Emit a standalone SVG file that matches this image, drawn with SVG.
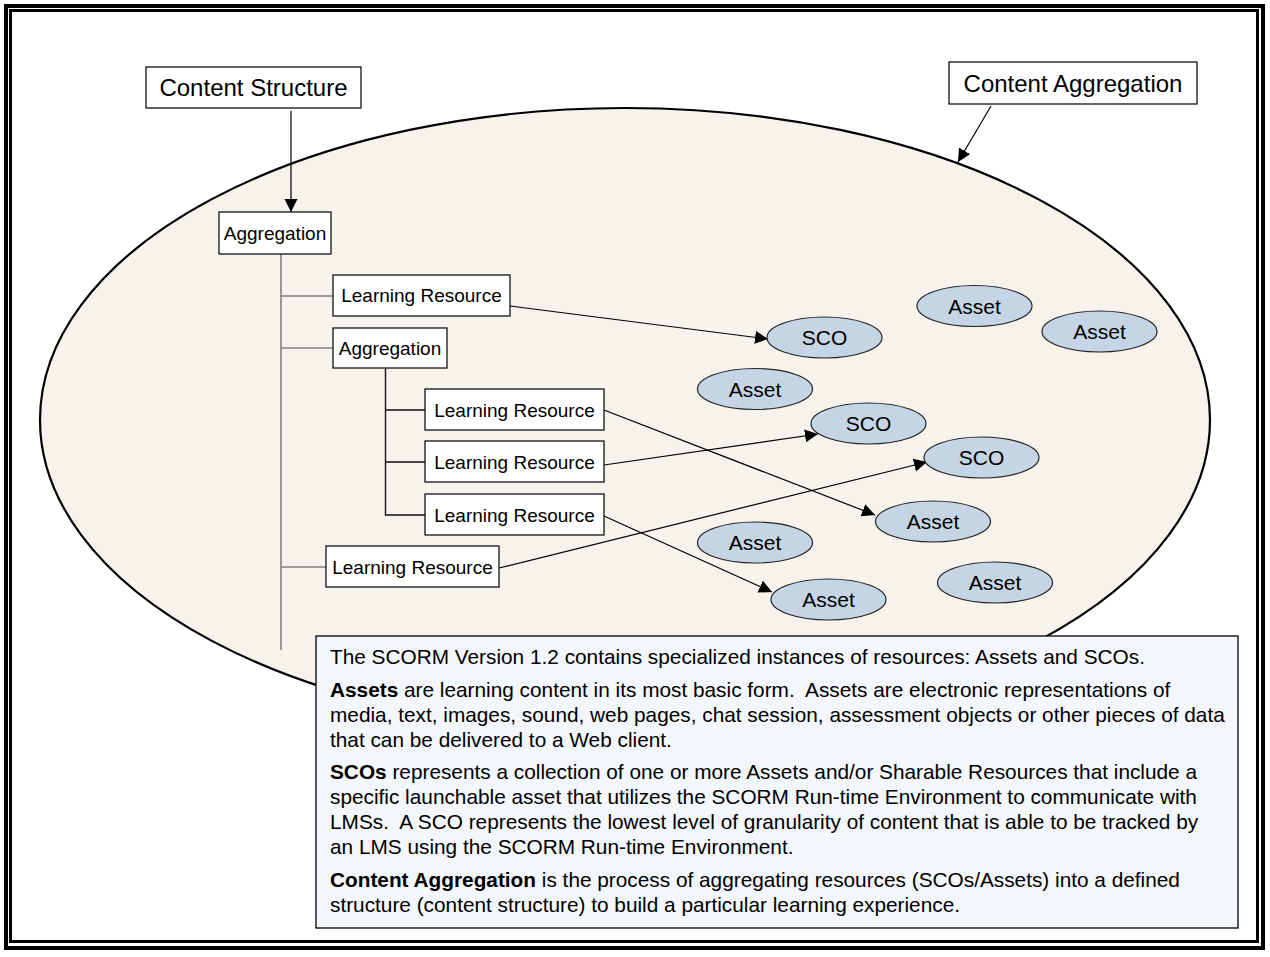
<svg xmlns="http://www.w3.org/2000/svg" width="1270" height="957" viewBox="0 0 1270 957">
<style>
text{font-family:"Liberation Sans",Arial,sans-serif;fill:#000}
.box{fill:#fff;stroke:#000;stroke-width:1.2}
.lbl{font-size:19px}
.big{font-size:24px}
.el{fill:#c5d5e6;stroke:#222;stroke-width:1.2}
.eltx{font-size:21px;text-anchor:middle}
.con{stroke:#000;stroke-width:1.2;fill:none}
.tree{stroke:#808080;stroke-width:1.6;fill:none}
.tree2{stroke:#111;stroke-width:1.4;fill:none}
.para{font-size:20.8px;white-space:pre}
</style>
<defs>
<marker id="ah" markerUnits="userSpaceOnUse" markerWidth="14" markerHeight="14" refX="13" refY="6.5" orient="auto">
<path d="M0,0 L13,6.5 L0,13 z" fill="#000"/>
</marker>
</defs>
<rect width="1270" height="957" fill="#fff"/>
<rect x="6" y="6" width="1257" height="942" fill="none" stroke="#000" stroke-width="4"/>
<rect x="10.5" y="10.5" width="1247" height="931" fill="none" stroke="#000" stroke-width="3"/>

<g id="content-aggregation-area">
<ellipse cx="625" cy="420" rx="585" ry="312" fill="#f6f2ec" stroke="#000" stroke-width="2.2"/>
</g>

<g id="tree">
<path class="tree" d="M281,254 V650 M281,296 H333 M281,348 H333 M281,567 H326"/>
<path class="tree2" d="M385.5,368 V515 H425 M385.5,410 H425 M385.5,462 H425"/>
</g>

<g id="connectors">
<line class="con" x1="291" y1="111" x2="291" y2="212" marker-end="url(#ah)"/>
<line class="con" x1="991" y1="106" x2="958" y2="162" marker-end="url(#ah)"/>
<line class="con" x1="510" y1="306" x2="768" y2="339" marker-end="url(#ah)"/>
<line class="con" x1="604" y1="410" x2="875" y2="515" marker-end="url(#ah)"/>
<line class="con" x1="604" y1="465" x2="818" y2="434" marker-end="url(#ah)"/>
<line class="con" x1="604" y1="516" x2="772" y2="592" marker-end="url(#ah)"/>
<line class="con" x1="499" y1="568" x2="927" y2="462" marker-end="url(#ah)"/>
</g>

<g id="content-structure">
<rect class="box" x="146" y="67" width="215" height="41"/>
<text class="big" x="253.5" y="96" text-anchor="middle">Content Structure</text>
</g>
<g id="content-aggregation">
<rect class="box" x="949" y="62" width="248" height="42"/>
<text class="big" x="1073" y="92" text-anchor="middle">Content Aggregation</text>
</g>
<g id="aggregation-1">
<rect class="box" x="219" y="212" width="112" height="42"/>
<text class="lbl" x="275" y="240" text-anchor="middle">Aggregation</text>
</g>
<g id="lr-1">
<rect class="box" x="333" y="275" width="177" height="41"/>
<text class="lbl" x="421.5" y="302" text-anchor="middle">Learning Resource</text>
</g>
<g id="aggregation-2">
<rect class="box" x="333" y="328" width="114" height="40"/>
<text class="lbl" x="390" y="355" text-anchor="middle">Aggregation</text>
</g>
<g id="lr-2">
<rect class="box" x="425" y="389" width="179" height="41"/>
<text class="lbl" x="514.5" y="417" text-anchor="middle">Learning Resource</text>
</g>
<g id="lr-3">
<rect class="box" x="425" y="441" width="179" height="41"/>
<text class="lbl" x="514.5" y="469" text-anchor="middle">Learning Resource</text>
</g>
<g id="lr-4">
<rect class="box" x="425" y="494" width="179" height="41"/>
<text class="lbl" x="514.5" y="522" text-anchor="middle">Learning Resource</text>
</g>
<g id="lr-5">
<rect class="box" x="326" y="546" width="173" height="41"/>
<text class="lbl" x="412.5" y="574" text-anchor="middle">Learning Resource</text>
</g>

<g id="sco-1"><ellipse class="el" cx="824.5" cy="337.5" rx="57.5" ry="20.5"/><text class="eltx" x="824.5" y="345">SCO</text></g>
<g id="sco-2"><ellipse class="el" cx="868.5" cy="423.5" rx="57.5" ry="20.5"/><text class="eltx" x="868.5" y="431">SCO</text></g>
<g id="sco-3"><ellipse class="el" cx="981.5" cy="457.5" rx="57.5" ry="20.5"/><text class="eltx" x="981.5" y="465">SCO</text></g>
<g id="asset-1"><ellipse class="el" cx="974.5" cy="306" rx="57.5" ry="20.5"/><text class="eltx" x="974.5" y="313.5">Asset</text></g>
<g id="asset-2"><ellipse class="el" cx="1099.5" cy="331.5" rx="57.5" ry="20.5"/><text class="eltx" x="1099.5" y="339">Asset</text></g>
<g id="asset-3"><ellipse class="el" cx="755" cy="389" rx="57.5" ry="20.5"/><text class="eltx" x="755" y="396.5">Asset</text></g>
<g id="asset-4"><ellipse class="el" cx="933" cy="521.5" rx="57.5" ry="20.5"/><text class="eltx" x="933" y="529">Asset</text></g>
<g id="asset-5"><ellipse class="el" cx="755" cy="542.5" rx="57.5" ry="20.5"/><text class="eltx" x="755" y="550">Asset</text></g>
<g id="asset-6"><ellipse class="el" cx="828.5" cy="599.5" rx="57.5" ry="20.5"/><text class="eltx" x="828.5" y="607">Asset</text></g>
<g id="asset-7"><ellipse class="el" cx="995" cy="582.5" rx="57.5" ry="20.5"/><text class="eltx" x="995" y="590">Asset</text></g>

<g id="description">
<rect x="316" y="636" width="922" height="292" fill="#f3f6fa" stroke="#000" stroke-width="1.3"/>
<text class="para" x="330" y="664">The SCORM Version 1.2 contains specialized instances of resources: Assets and SCOs.</text>
<text class="para" x="330" y="697"><tspan font-weight="bold">Assets</tspan> are learning content in its most basic form.  Assets are electronic representations of</text>
<text class="para" x="330" y="722">media, text, images, sound, web pages, chat session, assessment objects or other pieces of data</text>
<text class="para" x="330" y="747">that can be delivered to a Web client.</text>
<text class="para" x="330" y="779"><tspan font-weight="bold">SCOs</tspan> represents a collection of one or more Assets and/or Sharable Resources that include a</text>
<text class="para" x="330" y="804">specific launchable asset that utilizes the SCORM Run-time Environment to communicate with</text>
<text class="para" x="330" y="829">LMSs.  A SCO represents the lowest level of granularity of content that is able to be tracked by</text>
<text class="para" x="330" y="854">an LMS using the SCORM Run-time Environment.</text>
<text class="para" x="330" y="887"><tspan font-weight="bold">Content Aggregation</tspan> is the process of aggregating resources (SCOs/Assets) into a defined</text>
<text class="para" x="330" y="912">structure (content structure) to build a particular learning experience.</text>
</g>
</svg>
